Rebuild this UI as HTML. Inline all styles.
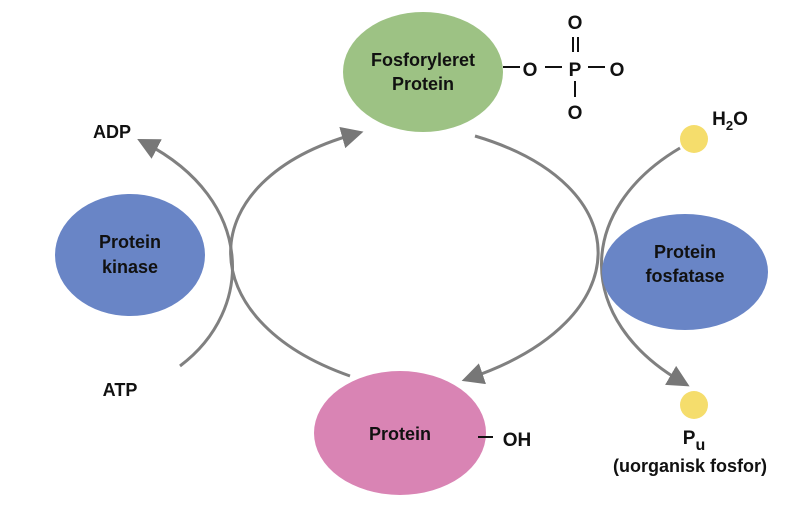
<!DOCTYPE html>
<html><head><style>body{margin:0;background:#fff}svg{display:block}text{font-family:"Liberation Sans",sans-serif;font-weight:bold;fill:#111}</style></head>
<body>
<svg width="800" height="508" viewBox="0 0 800 508">
<defs><marker id="b" viewBox="0 0 10 10" markerWidth="22" markerHeight="22" refX="6" refY="5" orient="auto" markerUnits="userSpaceOnUse"><path d="M0,0 L10,5 L0,10Z" fill="#777"/></marker></defs>
<g fill="none" stroke="#808080" stroke-width="3">
<path d="M350,376 C190,320 190,180 355,134" marker-end="url(#b)"/>
<path d="M475,136 C640,185 640,320 470,378" marker-end="url(#b)"/>
<path d="M180,366 C255,310 255,200 145,143" marker-end="url(#b)"/>
<path d="M680,148 C575,210 575,320 682,382" marker-end="url(#b)"/>
</g>
<ellipse cx="423" cy="72" rx="80" ry="60" fill="#9dc284"/>
<ellipse cx="130" cy="255" rx="75" ry="61" fill="#6985c6"/>
<ellipse cx="685" cy="272" rx="83" ry="58" fill="#6985c6"/>
<ellipse cx="400" cy="433" rx="86" ry="62" fill="#d984b4"/>
<circle cx="694" cy="139" r="14" fill="#f5dd6c"/>
<circle cx="694" cy="405" r="14" fill="#f5dd6c"/>
<g font-size="18" text-anchor="middle">
<text x="423" y="66">Fosforyleret</text><text x="423" y="90">Protein</text>
<text x="130" y="248">Protein</text><text x="130" y="273">kinase</text>
<text x="685" y="258">Protein</text><text x="685" y="282">fosfatase</text>
<text x="400" y="440">Protein</text>
<text x="112" y="138">ADP</text>
<text x="120" y="396">ATP</text>
<text x="530" y="76" font-size="19">O</text>
<text x="575" y="76" font-size="19">P</text>
<text x="617" y="76" font-size="19">O</text>
<text x="575" y="29" font-size="19">O</text>
<text x="575" y="119" font-size="19">O</text>
<text x="730" y="125" font-size="19">H<tspan font-size="13" dy="5">2</tspan><tspan dy="-5">O</tspan></text>
<text x="694" y="444" font-size="19">P<tspan font-size="16" dy="6">u</tspan></text>
<text x="690" y="472">(uorganisk fosfor)</text>
<text x="517" y="446" font-size="19">OH</text>
</g>
<g stroke="#111" stroke-width="2">
<line x1="503" y1="67" x2="520" y2="67"/><line x1="545" y1="67" x2="562" y2="67"/><line x1="588" y1="67" x2="605" y2="67"/>
<line x1="573" y1="37" x2="573" y2="52"/><line x1="578" y1="37" x2="578" y2="52"/>
<line x1="575" y1="81" x2="575" y2="97"/>
<line x1="478" y1="437" x2="493" y2="437"/>
</g>
</svg>
</body></html>
